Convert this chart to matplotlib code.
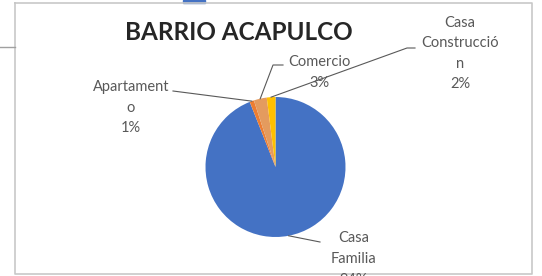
import numpy as np
import matplotlib
matplotlib.use("Agg")
import matplotlib.pyplot as plt

# ---- data ----
categories = ["Casa Familia", "Apartamento", "Comercio", "Casa Construcción"]
values = [94, 1, 3, 2]
label_texts = ["Casa\nFamilia\n94%", "Apartament\no\n1%", "Comercio\n3%", "Casa\nConstrucció\nn\n2%"]
colors = ["#4472C4", "#ED7D31", "#E49B5E", "#FFC000"]
title = "BARRIO ACAPULCO"

W, H = 542, 276
fig = plt.figure(figsize=(W / 100, H / 100), dpi=100)
ax = fig.add_axes([0, 0, 1, 1])

def Y(y):
    return H - y

cx, cy, r = 275.5, Y(167), 70
wedges, _ = ax.pie(values, colors=colors, startangle=90, counterclock=False,
                   center=(cx, cy), radius=r, frame=True,
                   wedgeprops=dict(linewidth=0))
ax.set_xlim(0, W)
ax.set_ylim(0, H)
ax.set_aspect("equal")
ax.axis("off")

# chart frame
ax.plot([15, 532, 532, 15, 15], [Y(3), Y(3), Y(274), Y(274), Y(3)], color="#C8C8C8", lw=1.2)
ax.plot([0, 15], [Y(47), Y(47)], color="#A0A0A0", lw=1)
ax.add_patch(plt.Rectangle((183, Y(2.5)), 22, 2.5, color="#4472C4"))

font = ["Lato", "DejaVu Sans"]
tc = "#595959"
ax.text(239, Y(33), title, ha="center", va="center", fontsize=17.5, fontweight="bold",
        color="#262626", family=font)

# label layout: text center, leader elbow points
layout = {
    "Casa Familia": dict(pos=(354, Y(259)), path=[(320, Y(242))]),
    "Apartamento": dict(pos=(131, Y(107.5)), path=[(173, Y(91))]),
    "Comercio": dict(pos=(319, Y(72.5)), path=[(273, Y(65)), (283, Y(65))]),
    "Casa Construcción": dict(pos=(460, Y(53.5)), path=[(407, Y(48)), (415, Y(48))]),
}

for w, cat, txt in zip(wedges, categories, label_texts):
    th = np.deg2rad((w.theta1 + w.theta2) / 2)
    ax_, ay_ = cx + r * np.cos(th), cy + r * np.sin(th)
    lay = layout[cat]
    pts = [(ax_, ay_)] + lay["path"]
    ax.plot([p[0] for p in pts], [p[1] for p in pts], color="#595959", lw=0.8)
    ax.text(lay["pos"][0], lay["pos"][1], txt, ha="center", va="center", fontsize=10.5,
            color=tc, family=font, linespacing=1.6)

fig.savefig("out.png", dpi=100)
